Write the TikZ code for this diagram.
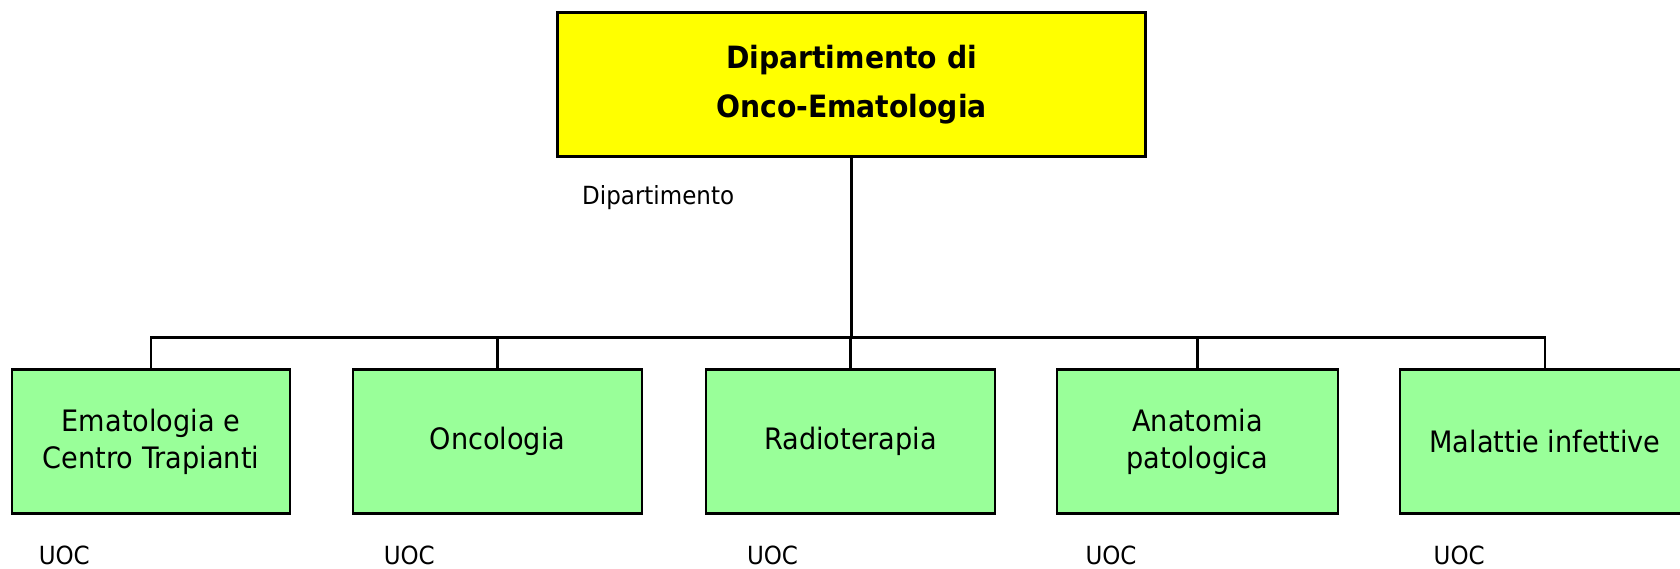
\documentclass[tikz,border=0pt]{standalone}
\usepackage{fontspec}
\setmainfont[FakeStretch=0.92]{DejaVu Sans}
\definecolor{deptyellow}{HTML}{FFFF00}
\definecolor{uocgreen}{HTML}{99FF99}
\begin{document}
\begin{tikzpicture}[x=1pt,y=-1pt,
    dept/.style={draw,line width=2.8pt,fill=deptyellow,minimum width=588pt,minimum height=144pt,align=center,font=\fontsize{30.7}{49}\selectfont\bfseries},
    uoc/.style={draw,line width=2.8pt,fill=uocgreen,minimum height=144pt,align=center,font=\fontsize{29.5}{37}\selectfont},
    tag/.style={inner sep=0pt,anchor=west,font=\fontsize{25}{30}\selectfont}]
        \clip (0,0) rectangle (1680,568);
        \node[dept] (dip) at (851.5,84.5) {Dipartimento di\\Onco-Ematologia};
        \node[tag] (diptag) at (582,198) {Dipartimento};
        \coordinate (bus) at (851.5,337.5);
        \node[uoc,minimum width=278pt] (ematol) at (151,441.5) {Ematologia e\\Centro Trapianti};
        \node[uoc,minimum width=289pt] (oncol) at (497.5,441.5) {Oncologia};
        \node[uoc,minimum width=289pt] (radiot) at (850.5,441.5) {Radioterapia};
        \node[uoc,minimum width=281pt] (anapat) at (1197.5,441.5) {Anatomia\\patologica};
        \node[uoc,minimum width=290pt] (malinf) at (1545,441.5) {Malattie infettive};
        \node[tag] (uoc1) at (38.6,555) {UOC};
        \node[tag] (uoc2) at (383.6,555) {UOC};
        \node[tag] (uoc3) at (746.8,555) {UOC};
        \node[tag] (uoc4) at (1085.3,555) {UOC};
        \node[tag] (uoc5) at (1433.5,555) {UOC};
        \draw[line width=2.8pt] (dip.south) -- (dip.south |- bus);
        \draw[line width=2.8pt] (ematol.north) -- (ematol.north |- bus) -- (malinf.north |- bus) -- (malinf.north);
        \foreach \n in {oncol,radiot,anapat}
          \draw[line width=2.8pt] (\n.north) -- (\n.north |- bus);
      \end{tikzpicture}
\end{document}
